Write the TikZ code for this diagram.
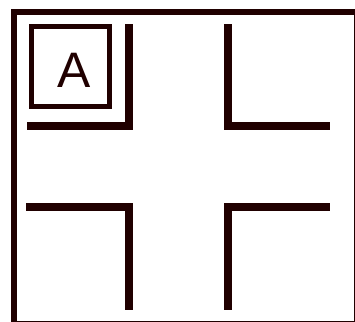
\documentclass[tikz,border=0pt]{standalone}
\usepackage{fontspec}
\setsansfont{Liberation Sans}
\definecolor{ink}{RGB}{32,0,0}
\begin{document}
\begin{tikzpicture}[x=1bp,y=-1bp,
  wall/.style={draw=ink,line width=7.5bp,line cap=rect},
  frameline/.style={draw=ink,line width=6bp},
  labelbox/.style={draw=ink,line width=5.5bp,minimum width=78bp,minimum height=80bp,inner sep=0pt},
  labeltext/.style={inner sep=0pt,font=\sffamily\fontsize{50}{50}\selectfont,text=ink}]
\useasboundingbox (0,0) rectangle (355,322);
\begin{scope}
\clip (0,0) rectangle (355,322);
\draw[frameline] (14,12) rectangle (356.5,323.5);
\end{scope}
\node[labelbox] (a) at (70.5,66.5) {};
\node[labeltext] (alabel) at (74,70.5) {A};
% top-left corner
\draw[wall] (31,126) -- (129,126) -- (129,28);
% top-right corner
\draw[wall] (228,28) -- (228,126) -- (326,126);
% bottom-left corner
\draw[wall] (30,207) -- (129,207) -- (129,306);
% bottom-right corner
\draw[wall] (228,306) -- (228,207) -- (326,207);
\end{tikzpicture}
\end{document}
